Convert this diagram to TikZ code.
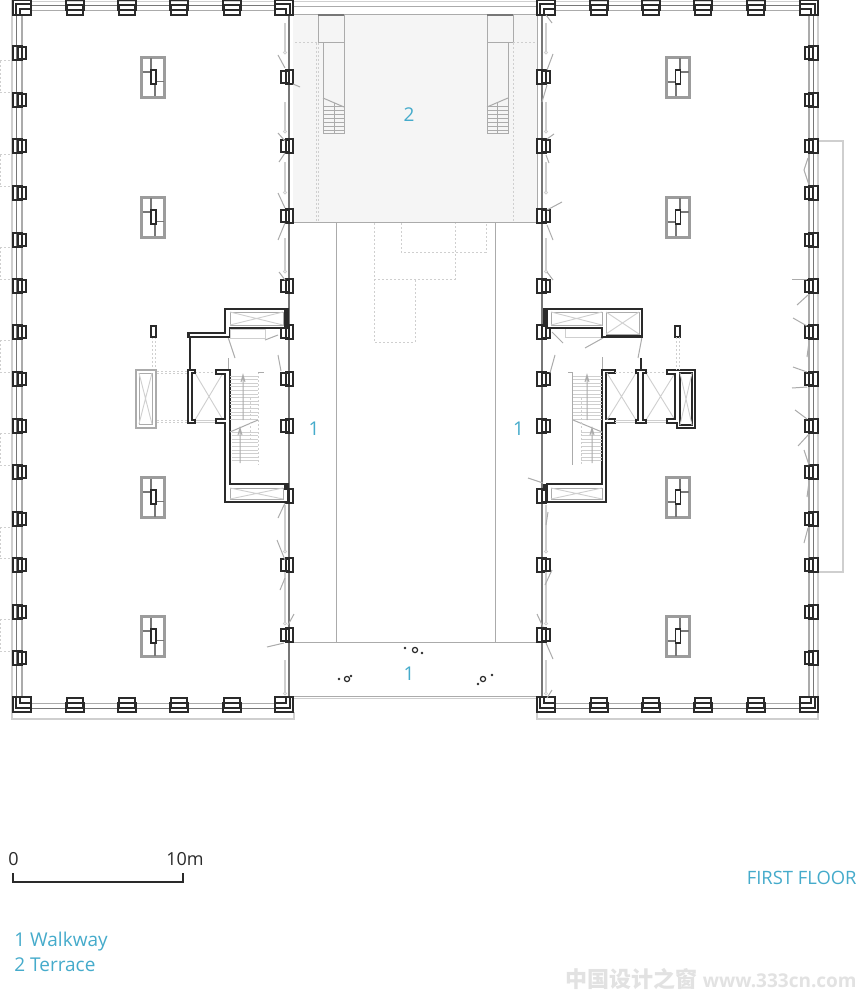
\documentclass[tikz,border=0pt]{standalone}
\usepackage{fontspec}
\setmainfont{Open Sans}
\newfontfamily\cjkwm{Noto Sans CJK SC}
\definecolor{dkc}{HTML}{2A2A2A}
\definecolor{midc}{HTML}{777777}
\definecolor{grc}{HTML}{ABABAB}
\definecolor{shc}{HTML}{9C9C9C}
\definecolor{lgc}{HTML}{CFCFCF}
\definecolor{txtc}{HTML}{45ABCB}
\definecolor{terr}{HTML}{F5F5F5}
\definecolor{wmc}{HTML}{E2E2E2}
\tikzset{
  dk/.style={draw=dkc,line width=0.6pt},
  wallline/.style={draw=dkc,line width=0.75pt,fill=white},
  thickwall/.style={draw=dkc,line width=1.1pt},
  md/.style={draw=midc,line width=0.5pt},
  gr/.style={draw=grc,line width=0.5pt},
  lg/.style={draw=lgc,line width=0.45pt},
  swing/.style={draw=grc,line width=0.5pt},
  dots/.style={draw=lgc,line width=0.5pt,dash pattern=on 1pt off 1pt},
  lbl/.style={text=txtc,font=\fontsize{9.5}{11}\selectfont,inner sep=0pt},
  tinydot/.style={fill=dkc,draw=none}
}
\newcommand{\colW}[1]{\draw[dk] (13,#1-7) rectangle (22,#1+7); \draw[dk] (18,#1-6) rectangle (26,#1+6);}
\newcommand{\colE}[1]{\draw[dk] (286,#1-7) rectangle (293,#1+7); \draw[dk] (281,#1-6) rectangle (289,#1+6);}
\newcommand{\colRW}[1]{\draw[dk] (537,#1-7) rectangle (546,#1+7); \draw[dk] (542,#1-6) rectangle (550,#1+6);}
\newcommand{\colRE}[1]{\draw[dk] (809,#1-7) rectangle (818,#1+7); \draw[dk] (805,#1-6) rectangle (813,#1+6);}
\newcommand{\colT}[1]{\draw[dk] (#1,0) rectangle (#1+18,10); \draw[dk] (#1+1,5) rectangle (#1+17,15);}
\newcommand{\colB}[1]{\draw[dk] (#1+1,698) rectangle (#1+17,708); \draw[dk] (#1,703) rectangle (#1+18,712);}
\newcommand{\cornerp}[4]{\begin{scope}[shift={(#1,#2)},xscale=#3,yscale=#4]
  \draw[draw=dkc,line width=0.75pt] (0,0) rectangle (18,15);
  \draw[dk] (3,15) -- (3,4) -- (18,4);
  \draw[dk] (7,15) -- (7,9) -- (18,9);
\end{scope}}
% service shafts: west building and east building variants
\newcommand{\shaftW}[1]{%
  \draw[draw=shc,line width=0.55pt] (141,#1) rectangle (165,#1+41);
  \draw[draw=shc,line width=0.55pt] (142.5,#1+1.5) rectangle (163.5,#1+39.5);
  \draw[draw=midc,line width=0.6pt] (151,#1+1.5) -- (151,#1+13);
  \draw[draw=midc,line width=0.6pt] (142.5,#1+15) -- (151,#1+15);
  \draw[draw=midc,line width=0.6pt] (156,#1+24.5) -- (163.5,#1+24.5);
  \draw[draw=midc,line width=0.6pt] (155,#1+27) -- (155,#1+39.5);
  \draw[dk] (151,#1+13) rectangle (156,#1+27);}
\newcommand{\shaftE}[1]{%
  \draw[draw=shc,line width=0.55pt] (666,#1) rectangle (690,#1+41);
  \draw[draw=shc,line width=0.55pt] (667.5,#1+1.5) rectangle (688.5,#1+39.5);
  \draw[draw=midc,line width=0.6pt] (680,#1+1.5) -- (680,#1+13);
  \draw[draw=midc,line width=0.6pt] (680.5,#1+15) -- (688.5,#1+15);
  \draw[draw=midc,line width=0.6pt] (667.5,#1+25) -- (675.5,#1+25);
  \draw[draw=midc,line width=0.6pt] (676,#1+27) -- (676,#1+39.5);
  \draw[dk] (675.5,#1+13) rectangle (680.5,#1+27);}
\newcommand{\slotp}[3]{\draw[lg] (#1-0.8,#2) rectangle (#1+0.8,#3); \draw[lg] (#1,#3+1.5) circle [radius=1.5];}
\newcommand{\crossbox}[4]{\draw[lg] (#1,#2) -- (#3,#4) (#1,#4) -- (#3,#2);}
\begin{document}
\begin{tikzpicture}[x=0.5pt,y=-0.5pt]
\useasboundingbox (0,0) rectangle (857,1000);
\fill[white] (0,0) rectangle (857,1000);
% terrace
\fill[terr] (293,15) rectangle (537,223);
\draw[gr] (293,15) -- (537,15);
\draw[gr] (293,223) -- (537,223);
\draw[lg] (293,1) -- (537,1);
\draw[gr] (293,7) -- (537,7);
% envelope lines, left building
\draw[lg,line width=0.6pt] (12,0) -- (12,719) -- (294,719) -- (294,712);
\draw[md] (16,15) -- (16,698);
\draw[gr,line width=0.6pt] (22,15) -- (22,698);
\draw[lg] (31,1) -- (275,1);
\draw[md] (31,6) -- (275,6);
\draw[gr] (31,11) -- (275,11);
\draw[gr] (31,703) -- (275,703);
\draw[md] (31,708) -- (275,708);
\draw[md,line width=0.6pt] (289,15) -- (289,698);
% envelope lines, right building
\draw[lg,line width=0.6pt] (818,0) -- (818,719) -- (537,719) -- (537,712);
\draw[md] (813,15) -- (813,698);
\draw[gr,line width=0.6pt] (809,15) -- (809,698);
\draw[lg] (556,1) -- (800,1);
\draw[md] (556,6) -- (800,6);
\draw[gr] (556,11) -- (800,11);
\draw[gr] (556,703) -- (800,703);
\draw[md] (556,708) -- (800,708);
\draw[md,line width=0.6pt] (542,15) -- (542,698);
\draw[gr,line width=0.5pt] (537,15) -- (537,223);
% balcony
\draw[lgc,line width=0.8pt] (818,141) -- (843,141) -- (843,572) -- (818,572);
% walkway
\draw[gr] (336,223) -- (336,642) (495,223) -- (495,642);
\draw[gr] (289,642) -- (542,642);
\draw[gr] (294,696.5) -- (537,696.5);
\draw[lg] (294,698) -- (537,698);
% west dotted
\foreach \a/\b in {61/93,155/187,247/279,340/372,433/465,527/558,619/651}{
  \draw[dots] (0,\a) -- (13,\a) (0,\b) -- (13,\b);
}
\draw[dots] (0,61) -- (0,93) (0,155) -- (0,187) (0,247) -- (0,279) (0,340) -- (0,372) (0,433) -- (0,465) (0,527) -- (0,558) (0,619) -- (0,651);
% dotted under terrace
\draw[dots] (401,223) -- (401,252) -- (486,252) -- (486,223);
\draw[dots] (374,223) -- (374,342) -- (415,342) -- (415,279);
\draw[dots] (374,279) -- (455,279) -- (455,223);
% terrace stairs
\draw[gr] (318,15) rectangle (344,43);
\draw[midc,line width=0.6pt] (318,15) -- (344,15);
\draw[gr] (323,43) -- (323,134) -- (344,134) -- (344,43);
\draw[gr] (323,98) -- (344,107);
\foreach \y in {107,111,115,119,123,127,131}{\draw[gr] (323,\y) -- (344,\y);}
\draw[gr] (334,103) -- (334,134);
\draw[dots] (318,43) -- (318,223) (295,43) -- (318,43) (316,43) -- (316,223);
\draw[gr] (487,15) rectangle (513,43);
\draw[midc,line width=0.6pt] (487,15) -- (513,15);
\draw[gr] (487,134) -- (508,134) -- (508,43);
\draw[gr] (487,43) -- (487,134);
\draw[gr] (487,107) -- (508,98);
\foreach \y in {107,111,115,119,123,127,131}{\draw[gr] (487,\y) -- (508,\y);}
\draw[gr] (497,103) -- (497,134);
\draw[dots] (513,43) -- (513,223) (513,43) -- (535,43);
% columns
\foreach \y in {53,100,146,193,240,286,332,379,426,472,519,565,612,658}{\colW{\y}\colRE{\y}}
\foreach \y in {77,146,216,286,332,379,426,496,565,635}{\colE{\y}\colRW{\y}}
\foreach \x in {66,118,170,223,590,642,694,747}{\colT{\x}\colB{\x}}
\cornerp{13}{0}{1}{1}\cornerp{293}{0}{-1}{1}\cornerp{13}{712}{1}{-1}\cornerp{293}{712}{-1}{-1}
\cornerp{537}{0}{1}{1}\cornerp{818}{0}{-1}{1}\cornerp{537}{712}{1}{-1}\cornerp{818}{712}{-1}{-1}
% service shafts
\foreach \y in {57,197,477,616}{\shaftW{\y}\shaftE{\y}}
% slots
\foreach \a/\b in {23/51,102/130,162/191,238/270,505/550,572/622,660/692}{\slotp{285}{\a}{\b}\slotp{546}{\a}{\b}}
% swing lines left building
\foreach \a/\b/\c/\d in {278/55/285/68,293/84/300/87,278/133/285/141,279/162/285/153,278/193/285/208,278/240/285/223,279/272/285/280,267/647/284/643,294/614/288/625,278/518/285/503,278/355/281/371,228/337/235/358,228/358/228/370,265/340/278/335,277/540/285/560,280/590/285/578}{
  \draw[swing] (\a,\b) -- (\c,\d);}
% swing lines right building inner
\foreach \a/\b/\c/\d in {546/15/552/23,547/70/553/54,542/102/547/85,547/139/554/134,546/155/549/163,547/210/562/202,547/225/553/240,547/272/553/280,537/614/543/627,546/643/553/659,552/690/547/698,563/343/552/332,585/348/603/338,555/355/550/373,602/357/602/370,528/478/543/483,548/512/546/525,642/337/638/358,545/585/552/570}{
  \draw[swing] (\a,\b) -- (\c,\d);}
% swing lines right facade
\foreach \a/\b/\c/\d in {792/279/807/279,797/305/808/295,793/318/807/326,807/357/809/342,793/367/807/372,792/388/807/387,795/410/807/419,798/446/809/434,804/450/809/465,807/497/809/482,808/158/804/170,804/170/809/185,808/528/804/543,808/543/808/558}{
  \draw[swing] (\a,\b) -- (\c,\d);}
% ---- left core
\draw[dots] (157,371) -- (188,371) (157,373) -- (188,373) (157,420) -- (188,420) (157,422) -- (188,422);
\draw[dots] (152,337) -- (152,370) (155,337) -- (155,370);
\draw[dots] (195,372) -- (216,372);
\draw[lg] (195,420) -- (216,420) (195,422) -- (216,422);
\crossbox{195}{373}{223}{420}
\draw[lg] (230,329) rectangle (265,338);
\draw[wallline] (225,309) -- (288,309) -- (288,328) -- (229.5,328) -- (229.5,337) -- (188,337) -- (188,333) -- (225,333) -- cycle;
\draw[thickwall] (225,309) -- (288,309);
\draw[gr] (230,312) rectangle (283,325);
\crossbox{230}{312}{283}{325}
\draw[wallline] (216,370) -- (230,370) -- (230,484) -- (288,484) -- (288,502) -- (225,502) -- (225,423) -- (216,423) -- (216,419) -- (225,419) -- (225,374) -- (216,374) -- cycle;
\draw[thickwall] (225,502) -- (288,502);
\draw[gr] (230,488) rectangle (283,499);
\crossbox{230}{488}{283}{499}
\draw[wallline] (188,370) -- (195,370) -- (195,373) -- (192,373) -- (192,420) -- (195,420) -- (195,423) -- (188,423) -- cycle;
\draw[dk] (190,337) -- (190,370);
\fill[dkc] (187.5,333) -- (190,333) -- (190,337) -- (187.5,337) -- cycle;
\draw[grc,line width=0.6pt] (136,370) rectangle (156,428);
\draw[grc,line width=0.5pt] (139,373) rectangle (152,424);
\crossbox{139}{373}{152}{424}
\draw[wallline] (151,326) rectangle (156,337);
\fill[dkc] (284,308) rectangle (289,327);
\fill[dkc] (284,483) rectangle (289,490);
% left stairs
\foreach \y in {376,379.6,383.2,386.8,390.4,394,397.6,401.2,404.8,408.4,412,415.6,419.2}{\draw[lg] (230,\y) -- (258,\y);}
\foreach \y in {432,435.6,439.2,442.8,446.4,450,453.6,457.2,460.8}{\draw[lg] (232,\y) -- (258,\y);}
\draw[gr] (230,432) -- (258,420);
\draw[gr] (243,375) -- (243,420) (241,382) -- (243,375) -- (245,382);
\draw[gr] (240,428) -- (240,463) (238,435) -- (240,428) -- (242,435);
\draw[dots] (258,372) -- (258,465);
\draw[dots] (250,398) -- (250,440);
\draw[gr] (258,372) -- (264,372);
% ---- right core
\draw[lg] (565,328) rectangle (602,337);
\draw[wallline] (547,309) -- (642,309) -- (642,337) -- (602,337) -- (602,328) -- (547,328) -- cycle;
\draw[thickwall] (547,309) -- (642,309);
\draw[thickwall] (606,336) -- (642,336);
\draw[gr] (551,312) rectangle (602,325);
\crossbox{551}{312}{602}{325}
\draw[gr] (606,312) rectangle (639,334);
\crossbox{606}{312}{639}{334}
\draw[wallline] (615,370) -- (602,370) -- (602,484) -- (547,484) -- (547,502) -- (606,502) -- (606,423) -- (615,423) -- (615,419) -- (606,419) -- (606,373) -- (615,373) -- cycle;
\draw[thickwall] (547,502) -- (606,502);
\draw[gr] (551,488) rectangle (602,499);
\crossbox{551}{488}{602}{499}
\draw[dots] (615,372) -- (636,372) (646,372) -- (667,372);
\draw[lg] (615,420) -- (636,420) (615,422) -- (636,422) (646,420) -- (667,420) (646,422) -- (667,422);
\crossbox{607}{373}{636}{420}
\crossbox{646}{373}{675}{420}
\draw[wallline] (636,370) -- (646,370) -- (646,373) -- (643,373) -- (643,420) -- (646,420) -- (646,423) -- (636,423) -- (636,420) -- (638,420) -- (638,373) -- (636,373) -- cycle;
\draw[dk] (641,358) -- (641,370);
\draw[wallline] (667,370) -- (695,370) -- (695,428) -- (677,428) -- (677,423) -- (667,423) -- (667,419) -- (675,419) -- (675,374) -- (667,374) -- cycle;
\draw[dk] (680,373) rectangle (692,425);
\crossbox{680}{373}{692}{425}
\draw[wallline] (675,326) rectangle (680,337);
\draw[dots] (676,337) -- (676,370) (679,337) -- (679,370);
\fill[dkc] (543,308) rectangle (546,325);
\fill[dkc] (543,484) rectangle (546,490);
% right stairs
\foreach \y in {376,379.6,383.2,386.8,390.4,394,397.6,401.2,404.8,408.4,412,415.6,419.2}{\draw[lg] (573,\y) -- (602,\y);}
\foreach \y in {432,435.6,439.2,442.8,446.4,450,453.6,457.2,460.8}{\draw[lg] (581,\y) -- (602,\y);}
\draw[gr] (573,420) -- (602,432);
\draw[gr] (587,375) -- (587,420) (585,382) -- (587,375) -- (589,382);
\draw[gr] (592,428) -- (592,463) (590,435) -- (592,428) -- (594,435);
\draw[gr] (572,372) -- (572,465) (568,372) -- (572,372);
\draw[dots] (581,398) -- (581,465);
% bollards
\draw[dk,line width=0.6pt] (415,650) circle [radius=2.6];
\draw[dk,line width=0.6pt] (347,679) circle [radius=2.6];
\draw[dk,line width=0.6pt] (483,679) circle [radius=2.6];
\foreach \x/\y in {405/648,422/653,339/679,351/676,478/684,492/675}{\fill[tinydot] (\x,\y) circle [radius=1.4];}
% scale bar
\coordinate (sa) at (13,873); \coordinate (sb) at (183,873);
\coordinate (sc) at (13,882); \coordinate (sd) at (183,882);
\draw[draw=dkc,line width=0.55pt] (sa) -- (sc) -- (sd) -- (sb);
% labels
\node[lbl] (t2) at (409,115) {2};
\node[lbl] (w1) at (314,429) {1};
\node[lbl] (w2) at (518.5,429) {1};
\node[lbl] (w3) at (409,674) {1};
\node[inner sep=0pt,anchor=west,text=dkc,font=\fontsize{9}{11}\selectfont] (s0) at (8,859) {0};
\node[inner sep=0pt,anchor=east,text=dkc,font=\fontsize{9}{11}\selectfont] (s10) at (204,859) {10m};
\node[text=txtc,font=\fontsize{9.2}{11}\selectfont,inner sep=0pt,anchor=east] (ff) at (857,878) {FIRST FLOOR};
\node[lbl,anchor=base west] (l1) at (14,946) {1 Walkway};
\node[lbl,anchor=base west] (l2) at (14,971) {2 Terrace};
\node[inner sep=0pt,anchor=east,text=wmc,font=\bfseries\fontsize{9.5}{11}\selectfont] (wm) at (857,979) {{\cjkwm\bfseries\fontsize{11}{11}\selectfont 中国设计之窗} www.333cn.com};
\end{tikzpicture}
\end{document}
